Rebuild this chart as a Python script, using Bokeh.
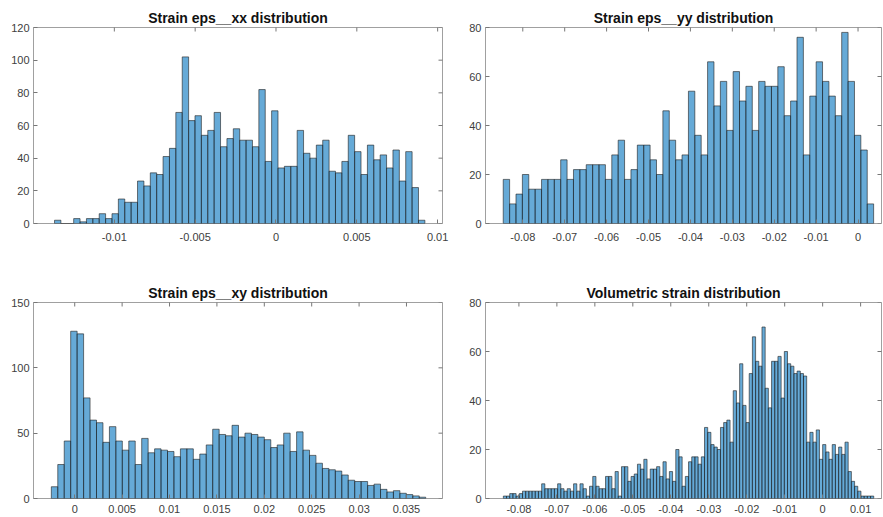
import numpy as np
from bokeh.plotting import figure
from bokeh.layouts import column, row
from bokeh.models import FixedTicker, Range1d
from bokeh.embed import file_html
from bokeh.resources import INLINE

# ---------------- data ----------------
xx_title = "Strain eps__xx distribution"
xx_counts = [2, 0, 0, 3, 1, 3, 3, 6, 3, 6, 15, 13, 13, 26, 23, 31, 30, 41, 46, 68,
             102, 63, 66, 54, 57, 68, 47, 52, 58, 51, 51, 47, 82, 38, 69, 34, 35, 35, 57, 43,
             40, 48, 51, 32, 31, 38, 54, 44, 30, 48, 39, 42, 34, 45, 26, 44, 22, 2]
xx_first_edge = -0.0137
xx_bin_width = 0.000395
xx_xlim = (-0.0150, 0.0103)
xx_ylim = (0, 120)
xx_xticks = [-0.01, -0.005, 0, 0.005, 0.01]
xx_xlabels = ["-0.01", "-0.005", "0", "0.005", "0.01"]
xx_yticks = [0, 20, 40, 60, 80, 100, 120]

yy_title = "Strain eps__yy distribution"
yy_counts = [18, 8, 12, 20, 14, 14, 18, 18, 18, 26, 18, 22, 22, 24, 24, 24, 18, 28, 34, 18,
             22, 32, 32, 26, 20, 46, 34, 26, 28, 54, 36, 28, 66, 48, 58, 38, 62, 50, 56, 38,
             58, 56, 56, 64, 44, 50, 76, 28, 52, 66, 58, 52, 44, 78, 58, 36, 30, 8]
yy_first_edge = -0.08467
yy_bin_width = 0.001524
yy_xlim = (-0.0889, 0.0056)
yy_ylim = (0, 80)
yy_xticks = [-0.08, -0.07, -0.06, -0.05, -0.04, -0.03, -0.02, -0.01, 0]
yy_xlabels = ["-0.08", "-0.07", "-0.06", "-0.05", "-0.04", "-0.03", "-0.02", "-0.01", "0"]
yy_yticks = [0, 20, 40, 60, 80]

xy_title = "Strain eps__xy distribution"
xy_counts = [9, 26, 44, 128, 126, 77, 60, 58, 43, 55, 44, 37, 44, 26, 46, 35, 38, 37, 36, 32,
             38, 38, 30, 34, 41, 53, 49, 48, 56, 47, 50, 49, 47, 45, 39, 41, 50, 36, 51, 37,
             33, 27, 23, 22, 21, 18, 14, 13, 13, 10, 11, 7, 5, 6, 4, 3, 2, 1]
xy_first_edge = -0.00247
xy_bin_width = 0.000681
xy_xlim = (-0.00435, 0.0388)
xy_ylim = (0, 150)
xy_xticks = [0, 0.005, 0.01, 0.015, 0.02, 0.025, 0.03, 0.035]
xy_xlabels = ["0", "0.005", "0.01", "0.015", "0.02", "0.025", "0.03", "0.035"]
xy_yticks = [0, 50, 100, 150]

vol_title = "Volumetric strain distribution"
vol_counts = [1, 1, 2, 2, 1, 2, 3, 3, 3, 3, 3, 3, 6, 4, 4, 4, 4, 6, 4, 3,
              4, 3, 6, 3, 6, 4, 1, 5, 9, 5, 4, 4, 9, 9, 4, 11, 1, 13, 13, 7,
              9, 10, 14, 12, 16, 8, 12, 12, 13, 9, 15, 8, 11, 7, 20, 17, 5, 9, 15, 17,
              17, 14, 17, 29, 27, 22, 21, 20, 29, 31, 32, 23, 44, 39, 55, 38, 31, 51, 66, 56,
              54, 70, 45, 37, 56, 56, 58, 41, 60, 55, 54, 51, 52, 51, 50, 23, 27, 23, 28, 16,
              22, 19, 16, 22, 18, 21, 18, 23, 11, 7, 5, 3, 1, 1, 1, 1]
vol_first_edge = -0.0841
vol_bin_width = 0.000841
vol_xlim = (-0.0888, 0.0155)
vol_ylim = (0, 80)
vol_xticks = [-0.08, -0.07, -0.06, -0.05, -0.04, -0.03, -0.02, -0.01, 0, 0.01]
vol_xlabels = ["-0.08", "-0.07", "-0.06", "-0.05", "-0.04", "-0.03", "-0.02", "-0.01", "0", "0.01"]
vol_yticks = [0, 20, 40, 60, 80]

# ---------------- styling ----------------
FONT = "Liberation Sans"
TEXT = "#404040"
BOX = "#a0a0a0"
TICK = "#777777"


def style_axis(ax, ticks, labels, standoff):
    ax.ticker = FixedTicker(ticks=ticks)
    ax.major_label_overrides = {t: s for t, s in zip(ticks, labels)}
    ax.major_tick_in = 4
    ax.major_tick_out = 0
    ax.minor_tick_line_color = None
    ax.axis_line_color = None
    ax.major_tick_line_color = TICK
    ax.major_tick_line_width = 1
    ax.major_label_text_font = FONT
    ax.major_label_text_color = TEXT
    ax.major_label_text_font_size = "11px"
    ax.major_label_standoff = standoff


def panel(title, counts, first_edge, bin_width, xlim, ylim, xticks, xlabels, yticks,
          width, height, bl, br, bt, bb, xstand):
    p = figure(width=width, height=height,
               x_range=Range1d(*xlim), y_range=Range1d(*ylim),
               output_backend="svg", toolbar_location=None,
               min_border_left=bl, min_border_right=br,
               min_border_top=bt, min_border_bottom=bb,
               background_fill_color="white", border_fill_color="white")
    edges = first_edge + bin_width * np.arange(len(counts) + 1)
    p.quad(left=edges[:-1], right=edges[1:], bottom=0, top=counts,
           fill_color="#0072BD", fill_alpha=0.6,
           line_color="#1e1e1e", line_width=0.6)
    # mirrored tick marks on the top and right edges of the box (clipped to the frame)
    p.scatter(x=xticks, y=[ylim[1]] * len(xticks), marker="dash", size=8,
              angle=np.pi / 2, line_color=TICK, line_width=1)
    p.scatter(x=[xlim[1]] * len(yticks), y=yticks, marker="dash", size=8,
              line_color=TICK, line_width=1)
    p.grid.visible = False
    p.outline_line_color = BOX
    p.outline_line_width = 1
    style_axis(p.xaxis[0], xticks, xlabels, xstand)
    style_axis(p.yaxis[0], yticks, [str(t) for t in yticks], 4)
    p.title.text = title
    p.title.align = "center"
    p.title.text_font = FONT
    p.title.text_font_style = "bold"
    p.title.text_font_size = "14px"
    p.title.text_color = "#111111"
    p.title.standoff = 4
    return p


W1, W2 = 450, 432
H1, H2 = 260, 257

p1 = panel(xx_title, xx_counts, xx_first_edge, xx_bin_width, xx_xlim, xx_ylim,
           xx_xticks, xx_xlabels, xx_yticks, W1, H1, 33, 8, 27, 37, 9)
p2 = panel(yy_title, yy_counts, yy_first_edge, yy_bin_width, yy_xlim, yy_ylim,
           yy_xticks, yy_xlabels, yy_yticks, W2, H1, 35, 1, 27, 37, 9)
p3 = panel(xy_title, xy_counts, xy_first_edge, xy_bin_width, xy_xlim, xy_ylim,
           xy_xticks, xy_xlabels, xy_yticks, W1, H2, 33, 8, 42, 19, 6)
p4 = panel(vol_title, vol_counts, vol_first_edge, vol_bin_width, vol_xlim, vol_ylim,
           vol_xticks, vol_xlabels, vol_yticks, W2, H2, 35, 1, 42, 19, 6)

layout = column(row(p1, p2), row(p3, p4))

with open("out.html", "w") as f:
    f.write(file_html(layout, INLINE))
